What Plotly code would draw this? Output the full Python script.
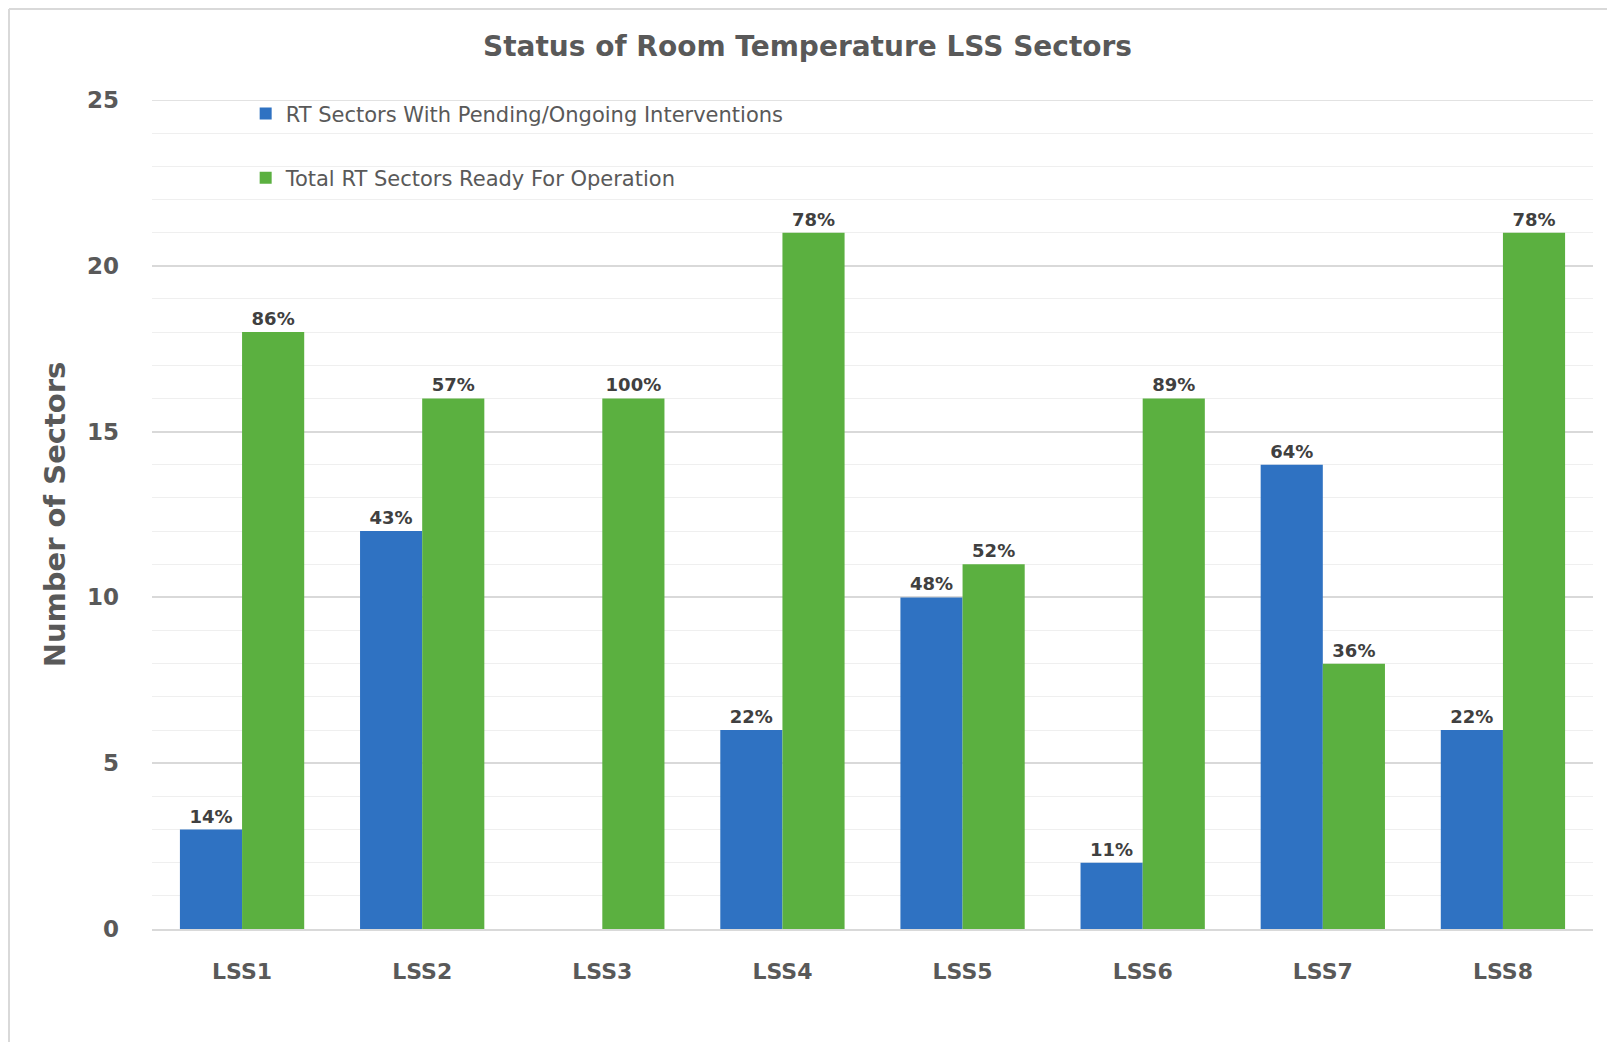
import plotly.graph_objects as go

categories = ["LSS1", "LSS2", "LSS3", "LSS4", "LSS5", "LSS6", "LSS7", "LSS8"]
pending = [3, 12, 0, 6, 10, 2, 14, 6]
ready = [18, 16, 16, 21, 11, 16, 8, 21]
pending_labels = ["14%", "43%", "", "22%", "48%", "11%", "64%", "22%"]
ready_labels = ["86%", "57%", "100%", "78%", "52%", "89%", "36%", "78%"]
y_max = 25

FONT = "'DejaVu Sans', sans-serif"
GRAY = "#595959"

W, H = 1599, 1034
L, T = 144, 92
PW, PH = 1441, 829
R = W - L - PW
B = H - T - PH

fig = go.Figure()
fig.add_trace(go.Bar(
    x=categories, y=pending, name="RT Sectors With Pending/Ongoing Interventions",
    legendgroup="a",
    marker=dict(color="#2F72C2", line=dict(width=0)),
    text=pending_labels, textposition="outside", cliponaxis=False,
    textfont=dict(family=FONT, size=18, color="#404040", weight="bold"),
))
fig.add_trace(go.Bar(
    x=categories, y=ready, name="Total RT Sectors Ready For Operation",
    legendgroup="b",
    marker=dict(color="#5BB040", line=dict(width=0)),
    text=ready_labels, textposition="outside", cliponaxis=False,
    textfont=dict(family=FONT, size=18, color="#404040", weight="bold"),
))

fig.update_layout(
    width=W, height=H,
    paper_bgcolor="white", plot_bgcolor="white",
    margin=dict(l=L, r=R, t=T, b=B),
    barmode="group", bargap=0.31, bargroupgap=0,
    title=dict(text="Status of Room Temperature LSS Sectors", x=0.5, xanchor="center",
               y=1 - 38 / H, yanchor="middle",
               font=dict(family=FONT, size=28, color=GRAY, weight="bold")),
    legend=dict(x=0.065, y=1.008, xanchor="left", yanchor="top",
                bgcolor="rgba(0,0,0,0)", tracegroupgap=34,
                font=dict(family=FONT, size=21, color=GRAY),
                itemwidth=30),
    font=dict(family=FONT, color=GRAY),
    uniformtext=dict(minsize=8, mode="show"),
)
fig.update_xaxes(
    showline=True, linecolor="#D9D9D9", linewidth=2,
    tickfont=dict(family=FONT, size=22, color=GRAY, weight="bold"),
    ticks="", ticklabelstandoff=22,
)
fig.update_yaxes(
    range=[0, y_max], tick0=0, dtick=5, showgrid=True, gridcolor="#D9D9D9", gridwidth=1.5,
    minor=dict(dtick=1, showgrid=True, gridcolor="#EFEFEF", gridwidth=1),
    zeroline=False,
    tickfont=dict(family=FONT, size=23, color=GRAY, weight="bold"),
    ticklabelstandoff=32,
    title=dict(text="Number of Sectors", standoff=12,
               font=dict(family=FONT, size=29, color=GRAY, weight="bold")),
)
# top major gridline (at the axis maximum)
fig.add_shape(type="line", xref="paper", yref="y", x0=0, x1=1, y0=y_max, y1=y_max,
              line=dict(color="#D9D9D9", width=1.5), layer="below")
# outer frame (left and top edges only)
fig.add_shape(type="line", xref="paper", yref="paper",
              x0=(1 - L) / PW, x1=(1 - L) / PW,
              y0=-(H - T - PH) / PH, y1=1 + (T - 1) / PH,
              line=dict(color="#D9D9D9", width=2), layer="below")
fig.add_shape(type="line", xref="paper", yref="paper",
              x0=(1 - L) / PW, x1=(W - L) / PW,
              y0=1 + (T - 1) / PH, y1=1 + (T - 1) / PH,
              line=dict(color="#D9D9D9", width=2), layer="below")

fig.write_html("out.html")
